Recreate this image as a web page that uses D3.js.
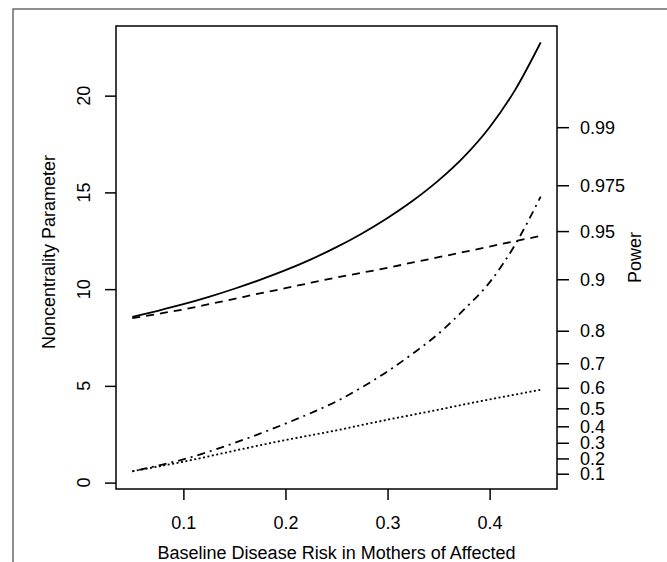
<!DOCTYPE html>
<html>
<head>
<meta charset="utf-8">
<script src="https://cdn.jsdelivr.net/npm/d3@7"></script>
<style>
  body { margin: 0; background: #fff; }
  svg text { font-family: "Liberation Sans", Arial, sans-serif; fill: #000; }
</style>
</head>
<body>
<svg id="canvas"></svg>
<script>
// baseline disease risk (x)
let risk = [0.05, 0.075, 0.10, 0.125, 0.15, 0.175, 0.20, 0.225, 0.25,
            0.275, 0.30, 0.325, 0.35, 0.375, 0.40, 0.425, 0.45];

// noncentrality parameter, one array per curve
let solidNcp   = [8.56, 8.88, 9.22, 9.6, 10.02, 10.48, 10.98, 11.54, 12.17,
                  12.88, 13.68, 14.58, 15.62, 16.85, 18.37, 20.3, 22.75];
let dashedNcp  = [8.5, 8.72, 8.95, 9.22, 9.5, 9.78, 10.05, 10.33, 10.6,
                  10.85, 11.1, 11.38, 11.65, 11.92, 12.2, 12.48, 12.75];
let dotdashNcp = [0.585, 0.88, 1.2, 1.6, 2.05, 2.53, 3.05, 3.6, 4.2,
                  4.93, 5.75, 6.68, 7.7, 8.95, 10.35, 12.3, 14.78];
let dottedNcp  = [0.585, 0.83, 1.08, 1.36, 1.65, 1.93, 2.2, 2.45, 2.7,
                  2.98, 3.25, 3.51, 3.77, 4.04, 4.3, 4.55, 4.8];

let xTicks = [0.1, 0.2, 0.3, 0.4];
let leftTicks = [0, 5, 10, 15, 20];
// power labels on the right and the noncentrality value they sit at
let powerLabels = ["0.1", "0.2", "0.3", "0.4", "0.5", "0.6", "0.7", "0.8", "0.9", "0.95", "0.975", "0.99"];
let powerNcp    = [0.46, 1.25, 2.06, 2.91, 3.84, 4.90, 6.17, 7.85, 10.51, 13.0, 15.37, 18.37];

var width = 667, height = 562;
var box = {left: 116, right: 557, top: 26, bottom: 489};
var fs = 18;

let canvas = d3.select('#canvas')
    .attr('width', width)
    .attr('height', height);

// outer frame (runs off the page to the right and bottom)
canvas.append('rect')
    .attr('x', 13).attr('y', 9)
    .attr('width', 700).attr('height', 600)
    .attr('fill', 'none')
    .attr('stroke', '#6a6a6a')
    .attr('stroke-width', 1.5);

var x = d3.scaleLinear().domain([0.034, 0.466]).range([box.left, box.right]);
var y = d3.scaleLinear().domain([-0.33, 23.6]).range([box.bottom, box.top]);

var series = [
    {vals: solidNcp,   dash: null},
    {vals: dashedNcp,  dash: '8,6'},
    {vals: dotdashNcp, dash: '2,5,8,5'},
    {vals: dottedNcp,  dash: '2,2.5'}
];

var line = d3.line()
    .x(function(d) { return x(d[0]); })
    .y(function(d) { return y(d[1]); })
    .curve(d3.curveMonotoneX);

canvas.selectAll('.curve')
    .data(series)
    .enter()
    .append('path')
    .attr('class', 'curve')
    .attr('d', function(s) { return line(risk.map(function(r, i) { return [r, s.vals[i]]; })); })
    .attr('fill', 'none')
    .attr('stroke', '#000')
    .attr('stroke-width', 1.8)
    .attr('stroke-dasharray', function(s) { return s.dash; });

// plot box
canvas.append('rect')
    .attr('x', box.left).attr('y', box.top)
    .attr('width', box.right - box.left).attr('height', box.bottom - box.top)
    .attr('fill', 'none')
    .attr('stroke', '#000')
    .attr('stroke-width', 1.5);

// bottom axis
var xAxis = canvas.append('g')
    .attr('transform', 'translate(0,' + box.bottom + ')')
    .call(d3.axisBottom(x).tickValues(xTicks).tickSize(11).tickPadding(16).tickFormat(d3.format('.1f')));
xAxis.select('.domain').remove();
xAxis.selectAll('line').attr('stroke', '#000').attr('stroke-width', 1.5);
xAxis.selectAll('text').attr('font-size', fs).attr('font-family', '"Liberation Sans", Arial, sans-serif');

// left axis, labels turned like R does
var yAxis = canvas.append('g')
    .attr('transform', 'translate(' + box.left + ',0)')
    .call(d3.axisLeft(y).tickValues(leftTicks).tickSize(11).tickFormat(''));
yAxis.select('.domain').remove();
yAxis.selectAll('line').attr('stroke', '#000').attr('stroke-width', 1.5);
canvas.selectAll('.ylab')
    .data(leftTicks)
    .enter()
    .append('text')
    .attr('class', 'ylab')
    .attr('transform', function(d) { return 'translate(90,' + y(d) + ') rotate(-90)'; })
    .attr('text-anchor', 'middle')
    .attr('font-size', fs)
    .text(function(d) { return d; });

// right power axis (labels sit tight, as in the original)
var rAxis = canvas.append('g')
    .attr('transform', 'translate(' + box.right + ',0)')
    .call(d3.axisRight(y).tickValues(powerNcp).tickSize(12).tickFormat(''));
rAxis.select('.domain').remove();
rAxis.selectAll('line').attr('stroke', '#000').attr('stroke-width', 1.5);
canvas.selectAll('.plab')
    .data(powerNcp)
    .enter()
    .append('text')
    .attr('class', 'plab')
    .attr('x', 580)
    .attr('y', function(d) { return y(d); })
    .attr('dy', '0.36em')
    .attr('font-size', fs)
    .text(function(d, i) { return powerLabels[i]; });

// axis titles
canvas.append('text')
    .attr('x', (box.left + box.right) / 2)
    .attr('y', 559)
    .attr('text-anchor', 'middle')
    .attr('font-size', fs)
    .text('Baseline Disease Risk in Mothers of Affected');

canvas.append('text')
    .attr('transform', 'translate(55,252) rotate(-90)')
    .attr('text-anchor', 'middle')
    .attr('font-size', fs)
    .text('Noncentrality Parameter');

canvas.append('text')
    .attr('transform', 'translate(641,' + (box.top + box.bottom) / 2 + ') rotate(-90)')
    .attr('text-anchor', 'middle')
    .attr('font-size', fs)
    .text('Power');
</script>
</body>
</html>
